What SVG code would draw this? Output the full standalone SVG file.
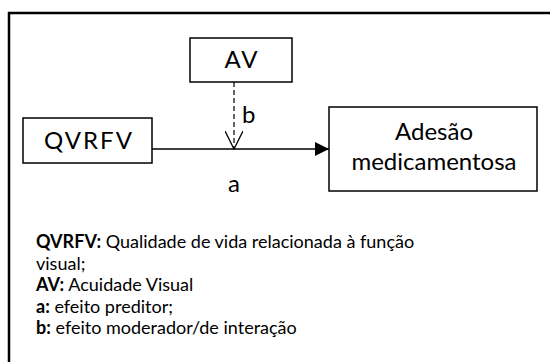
<svg xmlns="http://www.w3.org/2000/svg" width="550" height="362" viewBox="0 0 550 362">
<style>
.box{fill:#fff;stroke:#000;stroke-width:1.5}
.lbl{font-family:Lato,"Open Sans",sans-serif;font-size:24px;fill:#000}
.cap{letter-spacing:2px}
.leg{font-family:Lato,"Open Sans",sans-serif;font-size:18px;fill:#000}
.b{font-weight:bold}
</style>
<defs>
<marker id="fill" viewBox="0 0 10 10" refX="10" refY="5" markerWidth="15" markerHeight="14" markerUnits="userSpaceOnUse" orient="auto"><path d="M0,0 L10,5 L0,10 Z" fill="#000"/></marker>
<marker id="open" viewBox="0 0 10 10" refX="10" refY="5" markerWidth="19" markerHeight="18" markerUnits="userSpaceOnUse" orient="auto"><path d="M0,0 L10,5 L0,10" fill="none" stroke="#000" stroke-width="0.7"/></marker>
</defs>
<rect width="550" height="362" fill="#fff"/>
<path d="M9,370 V13 H560" fill="none" stroke="#000" stroke-width="2.5"/>
<g id="connectors">
<line x1="152" y1="149" x2="329" y2="149" stroke="#000" stroke-width="1.5" marker-end="url(#fill)"/>
<line x1="234" y1="82" x2="234" y2="149" stroke="#000" stroke-width="1.2" stroke-dasharray="5,3" marker-end="url(#open)"/>
<text class="lbl" x="242" y="123">b</text>
<text class="lbl" x="234" y="192" text-anchor="middle">a</text>
</g>
<g id="node-av"><rect class="box" x="190" y="38" width="102" height="44"/><text class="lbl cap" x="242" y="68" text-anchor="middle">AV</text></g>
<g id="node-qvrfv"><rect class="box" x="23" y="118" width="129" height="45"/><text class="lbl cap" x="89" y="149" text-anchor="middle">QVRFV</text></g>
<g id="node-adesao"><rect class="box" x="329" y="107" width="208" height="84"/><text class="lbl" x="434" y="140" text-anchor="middle">Adesão</text><text class="lbl" x="434" y="170" text-anchor="middle">medicamentosa</text></g>
<g id="legend">
<text class="leg" x="36" y="248"><tspan class="b">QVRFV:</tspan> Qualidade de vida relacionada à função</text>
<text class="leg" x="36" y="269.5">visual;</text>
<text class="leg" x="36" y="291"><tspan class="b">AV:</tspan> Acuidade Visual</text>
<text class="leg" x="36" y="312.5"><tspan class="b">a:</tspan> efeito preditor;</text>
<text class="leg" x="36" y="334"><tspan class="b">b:</tspan> efeito moderador/de interação</text>
</g>
</svg>
